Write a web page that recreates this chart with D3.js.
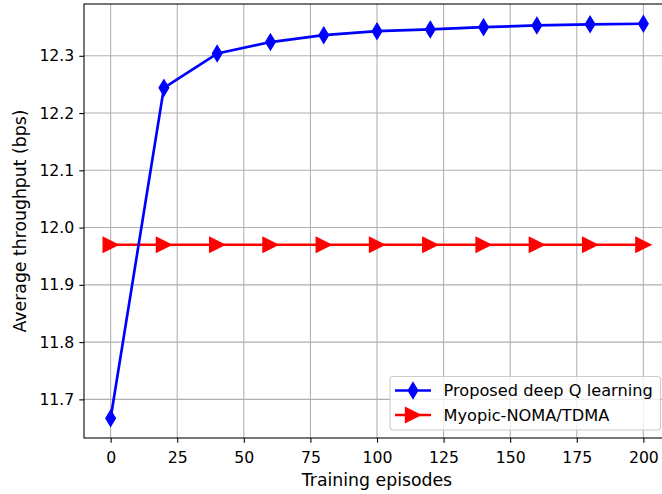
<!DOCTYPE html>
<html>
<head>
<meta charset="utf-8">
<script src="https://cdn.jsdelivr.net/npm/d3@7/dist/d3.min.js"></script>
<style>
  html, body { margin: 0; padding: 0; background: #fff; }
  svg { display: block; font-family: "DejaVu Sans", sans-serif; }
</style>
</head>
<body>
<svg id="chart" width="662" height="494"></svg>
<script>
// Training episodes sampled every 20 episodes
const episodes = [0, 20, 40, 60, 80, 100, 120, 140, 160, 180, 200];
// Average throughput (bps) of the deep Q learning agent
const dqlThroughput = [11.667, 12.244, 12.304, 12.324, 12.336, 12.343, 12.346, 12.350, 12.353, 12.355, 12.356];
// Myopic NOMA/TDMA baseline throughput
const myopicThroughput = [11.97, 11.97, 11.97, 11.97, 11.97, 11.97, 11.97, 11.97, 11.97, 11.97, 11.97];
const xTicks = [0, 25, 50, 75, 100, 125, 150, 175, 200];
const yTicks = [11.7, 11.8, 11.9, 12.0, 12.1, 12.2, 12.3];
const seriesNames = ["Proposed deep Q learning", "Myopic-NOMA/TDMA"];

const svg = d3.select("#chart");
const plot = { left: 84, top: 4, right: 670, bottom: 438 };

const x = d3.scaleLinear().domain([-10, 210]).range([plot.left, plot.right]);
const yMin = d3.min(dqlThroughput), yMax = d3.max(dqlThroughput);
const pad = (yMax - yMin) * 0.05;
const y = d3.scaleLinear().domain([yMin - pad, yMax + pad]).range([plot.bottom, plot.top]);

// grid
const grid = svg.append("g");
grid.selectAll(".gx").data(xTicks).join("line")
  .attr("x1", d => x(d)).attr("x2", d => x(d))
  .attr("y1", plot.top).attr("y2", plot.bottom)
  .attr("stroke", "#b0b0b0").attr("stroke-width", 1.07);
grid.selectAll(".gy").data(yTicks).join("line")
  .attr("x1", plot.left).attr("x2", plot.right)
  .attr("y1", d => y(d)).attr("y2", d => y(d))
  .attr("stroke", "#b0b0b0").attr("stroke-width", 1.07);

// axes
const xAxis = d3.axisBottom(x).tickValues(xTicks).tickSize(4.7).tickPadding(5).tickFormat(d3.format("d"));
const yAxis = d3.axisLeft(y).tickValues(yTicks).tickSize(4.7).tickPadding(5).tickFormat(d3.format(".1f"));

const gx = svg.append("g").attr("transform", `translate(0,${plot.bottom})`).call(xAxis);
const gy = svg.append("g").attr("transform", `translate(${plot.left},0)`).call(yAxis);
[gx, gy].forEach(g => {
  g.select(".domain").remove();
  g.selectAll(".tick line").attr("stroke", "#000").attr("stroke-width", 1.07);
  g.selectAll(".tick text").attr("fill", "#000").attr("font-size", "15.7px")
    .attr("font-family", "DejaVu Sans, sans-serif");
});
gx.selectAll(".tick text").attr("dy", "0.95em");

// spines
svg.append("rect")
  .attr("x", plot.left).attr("y", plot.top)
  .attr("width", plot.right - plot.left).attr("height", plot.bottom - plot.top)
  .attr("fill", "none").attr("stroke", "#000").attr("stroke-width", 1.07);

// axis labels
svg.append("text").attr("x", x(100)).attr("y", 485.5)
  .attr("text-anchor", "middle").attr("font-size", "17.3px").text("Training episodes");
svg.append("text")
  .attr("transform", `translate(26,${(plot.top + plot.bottom) / 2}) rotate(-90)`)
  .attr("text-anchor", "middle").attr("font-size", "17.3px").text("Average throughput (bps)");

const line = d3.line().x(d => x(d[0])).y(d => y(d[1]));
const diamond = "M0,-8 L4.8,0 L0,8 L-4.8,0 Z";
const triangle = "M7.5,0 L-7.5,-7.5 L-7.5,7.5 Z";

function drawSeries(values, color, markerPath) {
  const pts = episodes.map((e, i) => [e, values[i]]);
  svg.append("path").datum(pts).attr("d", line)
    .attr("fill", "none").attr("stroke", color).attr("stroke-width", 2.67)
    .attr("stroke-linejoin", "round");
  svg.append("g").selectAll("path").data(pts).join("path")
    .attr("d", markerPath)
    .attr("transform", d => `translate(${x(d[0])},${y(d[1])})`)
    .attr("fill", color).attr("stroke", color).attr("stroke-width", 1.33)
    .attr("stroke-linejoin", "miter");
}
drawSeries(myopicThroughput, "#ff0000", triangle);
drawSeries(dqlThroughput, "#0000ff", diamond);

// legend
const lg = svg.append("g");
lg.append("rect").attr("x", 390).attr("y", 376.5).attr("width", 270.5).attr("height", 53.5)
  .attr("rx", 3).attr("fill", "#fff").attr("fill-opacity", 0.8)
  .attr("stroke", "#cccccc").attr("stroke-width", 1.07);
const entries = [
  { name: seriesNames[0], color: "#0000ff", marker: diamond, cy: 390.5 },
  { name: seriesNames[1], color: "#ff0000", marker: triangle, cy: 415 }
];
entries.forEach(e => {
  lg.append("line").attr("x1", 395).attr("x2", 431).attr("y1", e.cy).attr("y2", e.cy)
    .attr("stroke", e.color).attr("stroke-width", 2.67);
  lg.append("path").attr("d", e.marker).attr("transform", `translate(413,${e.cy})`)
    .attr("fill", e.color).attr("stroke", e.color).attr("stroke-width", 1.33);
  lg.append("text").attr("x", 443.5).attr("y", e.cy).attr("dy", "0.36em")
    .attr("font-size", "16.2px").attr("fill", "#000").text(e.name);
});
</script>
</body>
</html>
